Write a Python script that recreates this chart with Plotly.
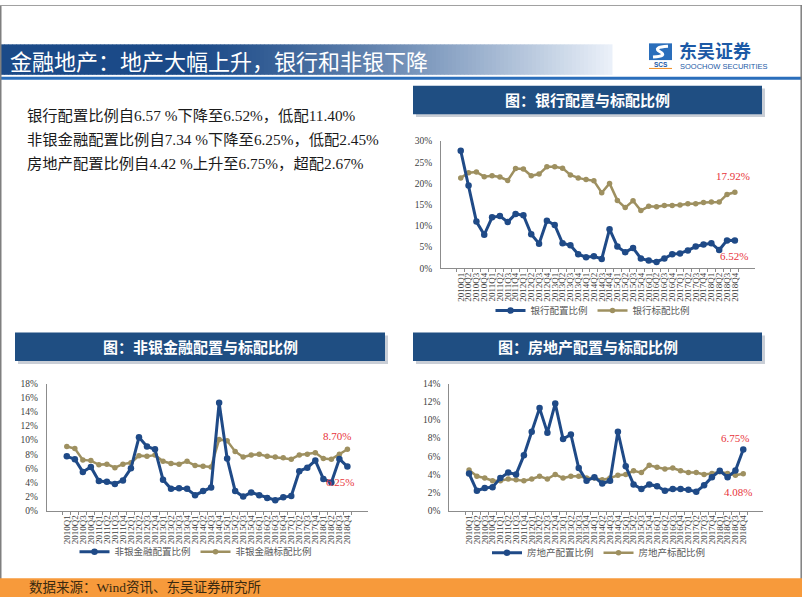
import plotly.graph_objects as go

W, H = 802, 602

quarters = [f"{y}Q{q}" for y in range(2010, 2019) for q in range(1, 5)]

bank_alloc = [27.7, 19.5, 11.0, 7.9, 12.0, 12.3, 10.9, 12.8, 12.5, 8.0, 5.8, 11.2,
              10.2, 5.9, 5.4, 3.3, 2.6, 2.8, 2.2, 9.2, 5.1, 3.8, 4.8, 2.3,
              1.8, 1.5, 2.3, 3.3, 3.5, 4.2, 5.1, 5.6, 5.9, 4.3, 6.57, 6.52]
bank_bench = [21.3, 22.5, 22.7, 21.6, 21.8, 21.5, 20.7, 23.5, 23.4, 21.8, 22.2, 23.9,
              23.9, 23.6, 22.0, 21.3, 20.9, 20.6, 17.8, 20.0, 16.0, 14.3, 15.9, 13.6,
              14.6, 14.5, 14.8, 14.8, 14.9, 15.2, 15.2, 15.5, 15.6, 15.6, 17.4, 17.92]

nonbank_alloc = [7.7, 7.3, 5.5, 6.2, 4.2, 4.1, 3.8, 4.3, 6.0, 10.4, 9.1, 8.7,
                 4.4, 3.1, 3.2, 3.1, 2.2, 2.8, 3.3, 15.3, 7.4, 2.8, 2.0, 2.6,
                 2.2, 1.8, 1.5, 1.9, 2.1, 5.6, 6.1, 7.1, 4.5, 4.0, 7.34, 6.25]
nonbank_bench = [9.1, 8.8, 7.2, 7.1, 6.5, 6.6, 6.1, 6.6, 6.8, 7.8, 7.7, 7.9,
                 7.0, 6.7, 6.6, 7.0, 6.4, 6.3, 6.2, 10.1, 9.9, 8.4, 7.6, 7.9,
                 8.0, 7.7, 7.6, 7.5, 7.3, 7.9, 8.0, 8.2, 7.4, 7.3, 8.0, 8.70]

re_alloc = [4.1, 2.2, 2.5, 2.6, 3.6, 4.2, 4.0, 6.1, 8.7, 11.3, 8.6, 11.8,
            7.9, 8.4, 4.7, 3.3, 3.7, 3.0, 3.3, 8.7, 4.9, 2.9, 2.4, 2.9,
            2.7, 2.2, 2.4, 2.4, 2.3, 2.1, 2.8, 3.7, 4.4, 3.7, 4.42, 6.75]
re_bench = [4.5, 3.8, 3.6, 3.3, 3.3, 3.5, 3.4, 3.3, 3.5, 3.8, 3.5, 4.0,
            3.6, 3.8, 3.8, 3.6, 3.6, 3.4, 3.6, 3.9, 4.0, 4.4, 4.2, 5.0,
            4.8, 4.6, 4.7, 4.4, 4.2, 4.2, 4.0, 4.1, 4.3, 4.1, 3.9, 4.08]

names = [("银行配置比例", "银行标配比例"),
         ("非银金融配置比例", "非银金融标配比例"),
         ("房地产配置比例", "房地产标配比例")]

title = "金融地产：地产大幅上升，银行和非银下降"
body_lines = ["银行配置比例自6.57 %下降至6.52%，低配11.40%",
              "非银金融配置比例自7.34 %下降至6.25%，低配2.45%",
              "房地产配置比例自4.42 %上升至6.75%，超配2.67%"]
box_titles = ["图：银行配置与标配比例", "图：非银金融配置与标配比例", "图：房地产配置与标配比例"]
source = "数据来源：Wind资讯、东吴证券研究所"

BLUE = "#1F4A87"
GOLD = "#9E9060"
RED = "#E8333A"
SERIF = "Liberation Serif, 'Noto Sans CJK SC', serif"
CJK = "'Noto Sans CJK SC', sans-serif"


def px(x):
    return x / W


def py(y):
    return 1 - y / H


fig = go.Figure()

series = [(bank_alloc, bank_bench), (nonbank_alloc, nonbank_bench), (re_alloc, re_bench)]
for i, (alloc, bench) in enumerate(series):
    sfx = "" if i == 0 else str(i + 1)
    fig.add_trace(go.Scatter(x=quarters, y=bench, mode="lines+markers", name=names[i][1],
                             line=dict(color=GOLD, width=2.5), marker=dict(size=5.5, color=GOLD),
                             xaxis="x" + sfx, yaxis="y" + sfx, legend="legend" + sfx,
                             legendrank=2, hoverinfo="skip"))
    fig.add_trace(go.Scatter(x=quarters, y=alloc, mode="lines+markers", name=names[i][0],
                             line=dict(color=BLUE, width=3), marker=dict(size=6.5, color=BLUE),
                             xaxis="x" + sfx, yaxis="y" + sfx, legend="legend" + sfx,
                             legendrank=1, hoverinfo="skip"))

# axes geometry (pixel)
geo = [
    dict(x0=441, x1=754.6, y0=267.7, y1=138.3, ymax=30, dtick=5, leg=(593, 310.7)),
    dict(x0=46.7, x1=367.5, y0=514.3, y1=385.0, ymax=18, dtick=2, leg=(196, 556)),
    dict(x0=449.3, x1=763.0, y0=514.3, y1=385.0, ymax=14, dtick=2, leg=(599, 557)),
]
layout = {}
for i, g in enumerate(geo):
    sfx = "" if i == 0 else str(i + 1)
    layout["xaxis" + sfx] = dict(
        domain=[px(g["x0"]), px(g["x1"])], anchor="y" + sfx, type="category",
        tickmode="array", tickvals=quarters, ticktext=quarters,
        tickangle=-90, showline=True, linecolor="#8C8C8C", linewidth=1,
        ticks="outside", ticklen=3, tickcolor="#8C8C8C", tickson="boundaries",
        showgrid=False, zeroline=False, fixedrange=True,
        tickfont=dict(family=SERIF, size=9, color="#404040"))
    layout["yaxis" + sfx] = dict(
        domain=[py(g["y0"]), py(g["y1"])], anchor="x" + sfx, range=[0, g["ymax"]],
        dtick=g["dtick"], ticksuffix="%", showline=True, linecolor="#8C8C8C", linewidth=1,
        showgrid=False, zeroline=False, ticks="", ticklabelstandoff=6, fixedrange=True,
        tickfont=dict(family=SERIF, size=9.5, color="#404040"))
    layout["legend" + sfx] = dict(
        orientation="h", x=px(g["leg"][0]), xanchor="center", y=py(g["leg"][1]),
        yanchor="middle", font=dict(family=SERIF, size=9.5, color="#595959"),
        bgcolor="rgba(0,0,0,0)", itemwidth=30, traceorder="normal")

shapes = []
# header gradient band
dark = (27, 74, 136)
light = (236, 242, 250)
step = 4
for xs in range(0, 612, step):
    t = min(1.0, max(0.0, (xs - 180) / 430.0)) ** 1.3
    c = tuple(int(dark[k] + (light[k] - dark[k]) * t) for k in range(3))
    shapes.append(dict(type="rect", xref="paper", yref="paper", x0=px(xs), x1=px(xs + step + 0.5),
                       y0=py(71), y1=py(40), fillcolor="rgb(%d,%d,%d)" % c, line=dict(width=0),
                       layer="below"))
# blue rule under header
shapes.append(dict(type="rect", xref="paper", yref="paper", x0=0, x1=1, y0=py(76), y1=py(73),
                   fillcolor="#2A6EBB", line=dict(width=0)))
# slide border
shapes.append(dict(type="line", xref="paper", yref="paper", x0=px(0.75), x1=px(0.75), y0=0, y1=1,
                   line=dict(color="#7F7F7F", width=1.5)))
shapes.append(dict(type="line", xref="paper", yref="paper", x0=0, x1=1, y0=py(0.5), y1=py(0.5),
                   line=dict(color="#A0A0A0", width=1)))
shapes.append(dict(type="line", xref="paper", yref="paper", x0=px(801.2), x1=px(801.2), y0=0, y1=1,
                   line=dict(color="#7F7F7F", width=1.5)))
# orange source bar
shapes.append(dict(type="rect", xref="paper", yref="paper", x0=0, x1=1, y0=py(602), y1=py(583),
                   fillcolor="#F79A3B", line=dict(width=0)))

# title boxes with shadow
boxes = [(413, 82, 762, 111), (15, 333, 385, 362), (413, 333, 762, 362)]
for (x0, y0, x1, y1) in boxes:
    shapes.append(dict(type="rect", xref="paper", yref="paper", x0=px(x0 + 3), x1=px(x1 + 3),
                       y0=py(y1 + 3), y1=py(y0 + 3), fillcolor="#C9CED6", line=dict(width=0)))
    shapes.append(dict(type="rect", xref="paper", yref="paper", x0=px(x0), x1=px(x1),
                       y0=py(y1), y1=py(y0), fillcolor="#1F4E82", line=dict(width=0)))

# logo icon
shapes.append(dict(type="rect", xref="paper", yref="paper", x0=px(649), x1=px(672),
                   y0=py(56), y1=py(39), fillcolor="#2A6EBB", line=dict(width=0)))
shapes.append(dict(type="path", xref="paper", yref="paper",
                   path="M %f %f Q %f %f %f %f Q %f %f %f %f" % (
                       px(668), py(42), px(652), py(43), px(660), py(47.5),
                       px(668), py(52), px(653), py(53)),
                   line=dict(color="white", width=3)))
shapes.append(dict(type="rect", xref="paper", yref="paper", x0=px(649), x1=px(672),
                   y0=py(65), y1=py(64), fillcolor="#F08A1C", line=dict(width=0)))

annotations = []
annotations.append(dict(text=title, xref="paper", yref="paper", x=px(8), y=py(55.5),
                        xanchor="left", yanchor="middle", showarrow=False,
                        font=dict(family=CJK, size=22, color="white")))
annotations.append(dict(text="东吴证券", xref="paper", yref="paper", x=px(677), y=py(45.5),
                        xanchor="left", yanchor="middle", showarrow=False,
                        font=dict(family=CJK, size=18, color="#1C5AA6", weight="bold")))
annotations.append(dict(text="SOOCHOW SECURITIES", xref="paper", yref="paper", x=px(678), y=py(62.5),
                        xanchor="left", yanchor="middle", showarrow=False,
                        font=dict(family="Liberation Sans, Arial", size=7.5, color="#1C5AA6")))
annotations.append(dict(text="SCS", xref="paper", yref="paper", x=px(660.5), y=py(60.5),
                        xanchor="center", yanchor="middle", showarrow=False,
                        font=dict(family="Liberation Sans, Arial", size=6.5, color="#1C5AA6",
                                  weight="bold")))
for k, line in enumerate(body_lines):
    annotations.append(dict(text=line, xref="paper", yref="paper", x=px(25), y=py(112 + 24.5 * k),
                            xanchor="left", yanchor="middle", showarrow=False,
                            font=dict(family=SERIF, size=15.3, color="#1A1A1A")))
for (x0, y0, x1, y1), t in zip(boxes, box_titles):
    annotations.append(dict(text=t, xref="paper", yref="paper", x=px((x0 + x1) / 2), y=py((y0 + y1) / 2),
                            xanchor="center", yanchor="middle", showarrow=False,
                            font=dict(family=CJK, size=15, color="white", weight="bold")))
annotations.append(dict(text=source, xref="paper", yref="paper", x=px(27), y=py(592.5),
                        xanchor="left", yanchor="middle", showarrow=False,
                        font=dict(family=SERIF, size=13.5, color="#3A2A10")))

# end-value labels
end_labels = [
    ("", bank_bench, 16, -2), ("", bank_alloc, -15, -1),
    ("2", nonbank_bench, 13, -10), ("2", nonbank_alloc, -15, -7),
    ("3", re_alloc, 11, -8), ("3", re_bench, -18, -5),
]
for sfx, vals, ys, xs in end_labels:
    annotations.append(dict(text="%.2f%%" % vals[-1], xref="x" + sfx, yref="y" + sfx,
                            x=quarters[-1], y=vals[-1], yshift=ys, xshift=xs, showarrow=False,
                            xanchor="center", yanchor="middle",
                            font=dict(family=SERIF, size=11, color=RED)))

fig.update_layout(width=W, height=H, margin=dict(l=0, r=0, t=0, b=0),
                  paper_bgcolor="white", plot_bgcolor="rgba(0,0,0,0)",
                  shapes=shapes, annotations=annotations, showlegend=True, **layout)

fig.write_html("out.html", config={"displayModeBar": False},
               post_script="document.body.style.margin='0';document.body.style.padding='0';")
